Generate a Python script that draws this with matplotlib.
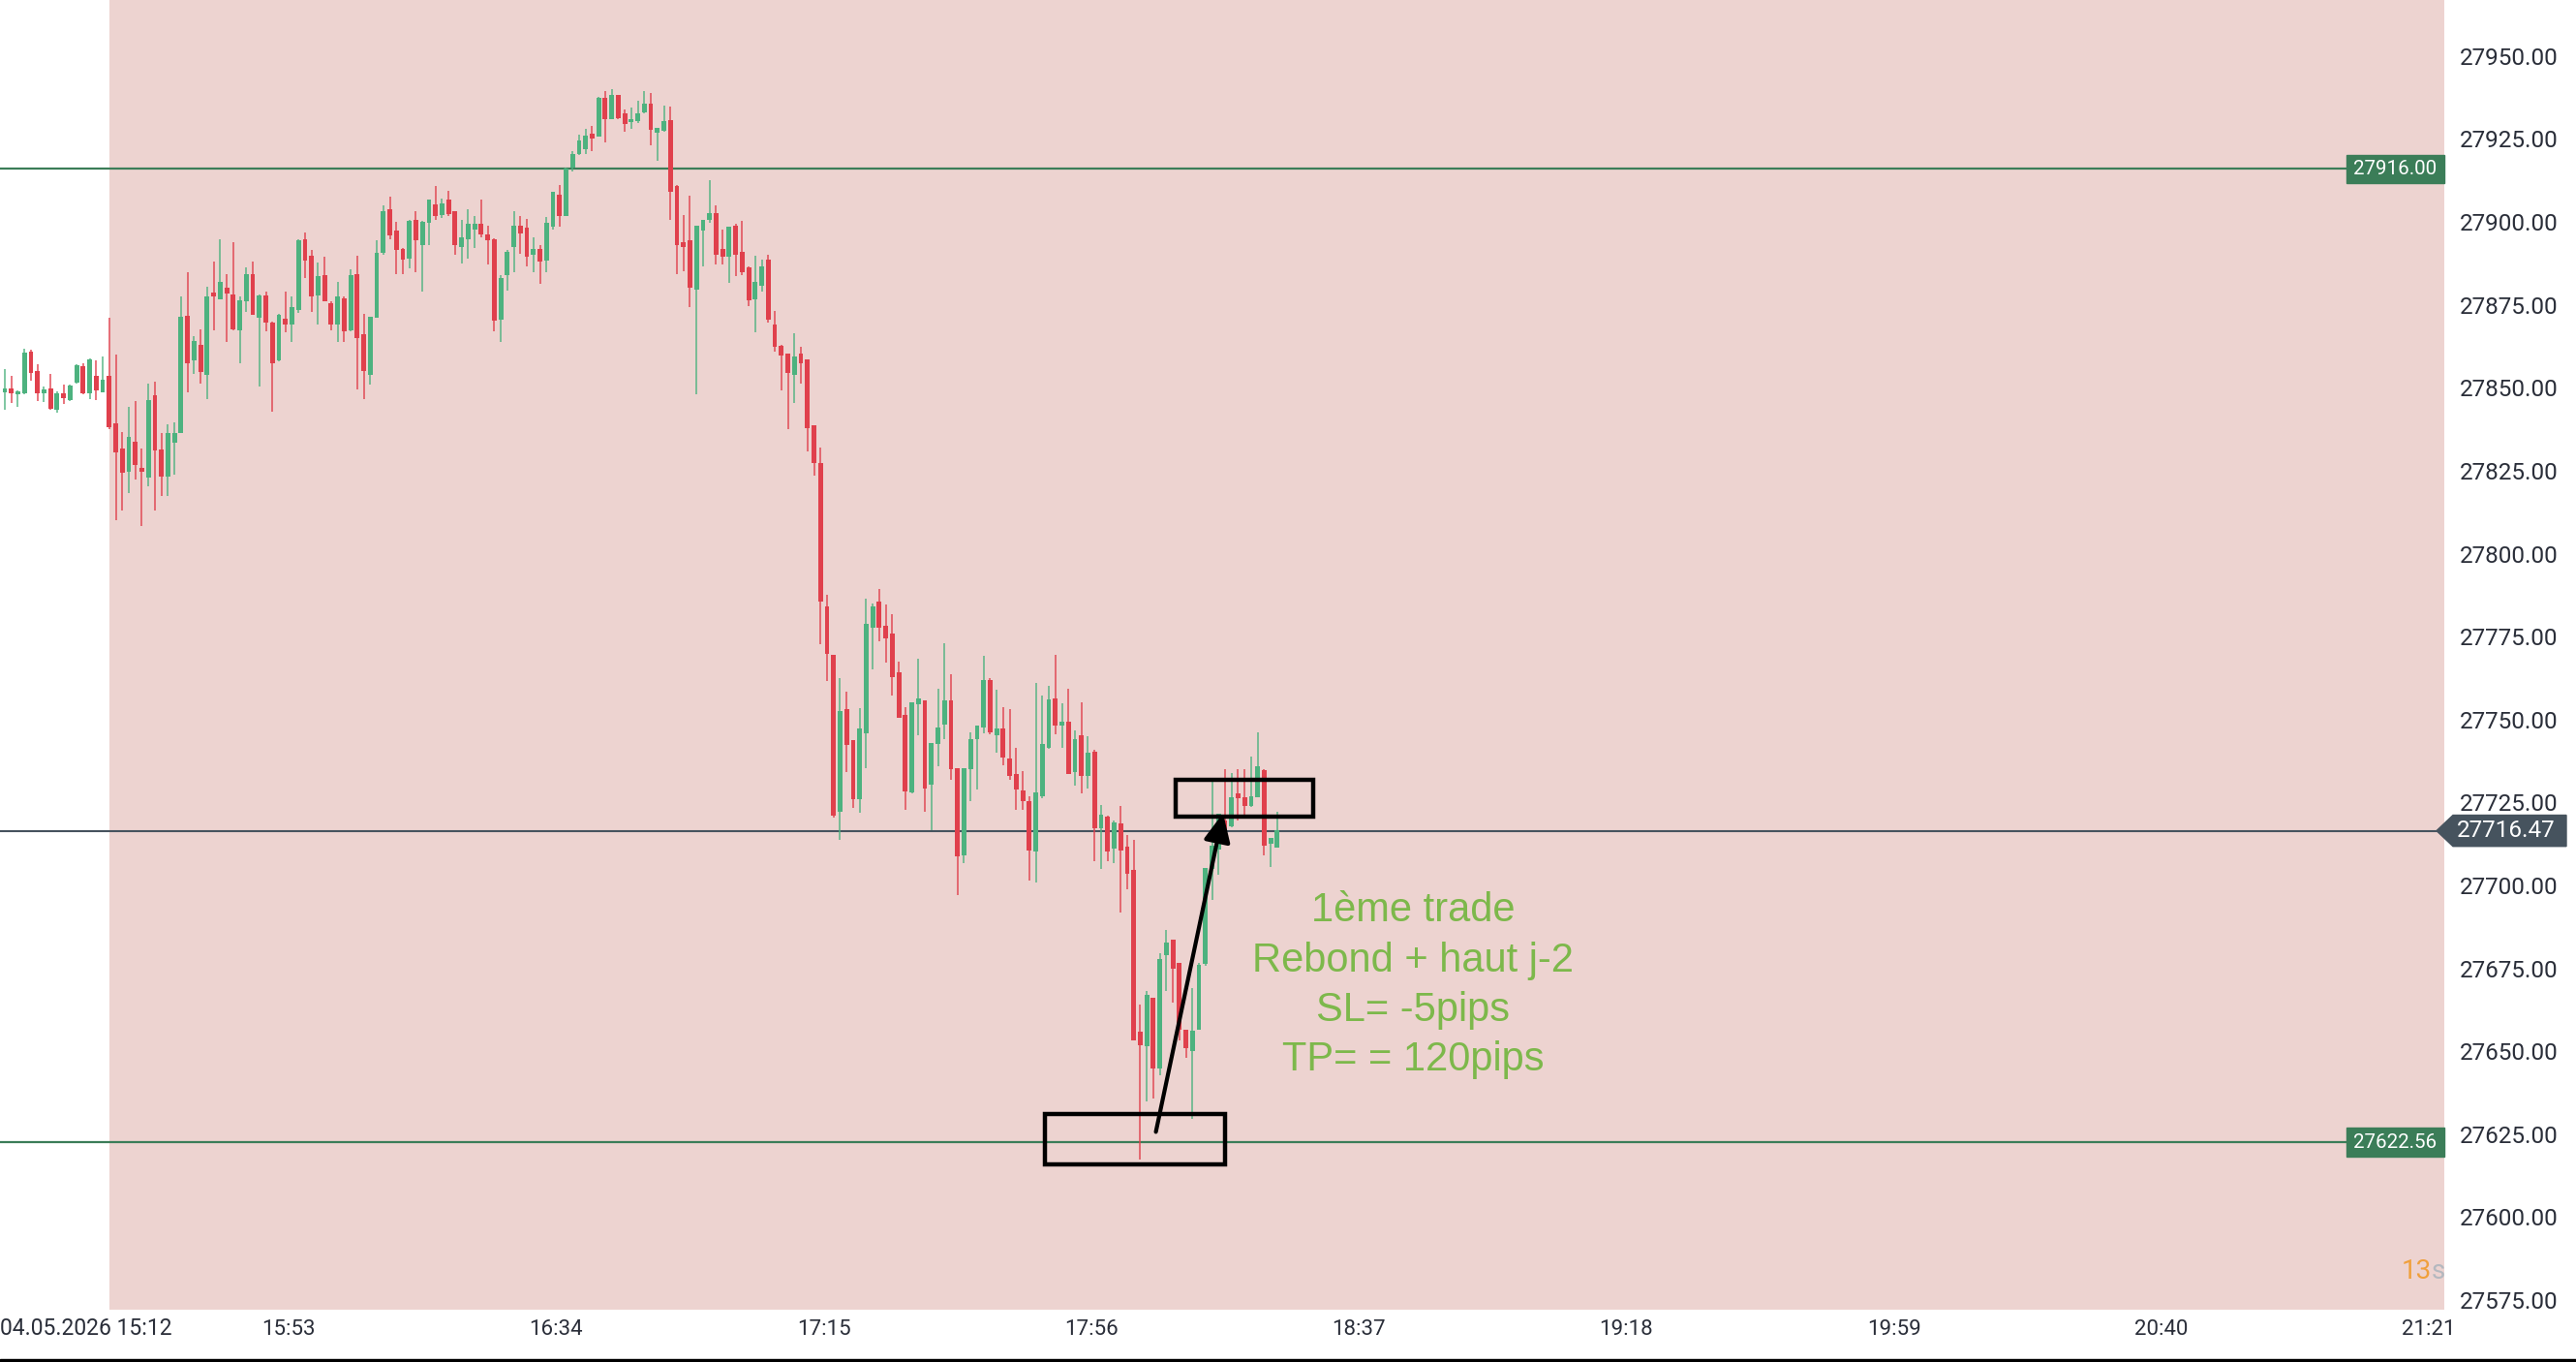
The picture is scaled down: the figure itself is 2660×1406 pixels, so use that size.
import matplotlib.pyplot as plt
import numpy as np
from matplotlib.patches import Rectangle, Polygon
from matplotlib.transforms import blended_transform_factory

plt.rcParams['font.family'] = ['Roboto', 'DejaVu Sans']

# 1 minute candles (O, H, L, C)
opens = [27848.6, 27849.9, 27848.0, 27848.2, 27861.0, 27855.2, 27848.2, 27849.9, 27843.5, 27848.2,
         27846.2, 27851.6, 27856.4, 27848.2, 27853.5, 27848.7, 27853.5, 27839.4, 27831.8, 27824.8,
         27833.6, 27826.0, 27822.9, 27847.7, 27831.4, 27823.3, 27833.4, 27836.3, 27871.7, 27858.4,
         27863.0, 27854.0, 27878.8, 27876.6, 27880.3, 27878.1, 27867.4, 27876.0, 27884.4, 27871.1,
         27877.9, 27869.8, 27858.4, 27870.8, 27869.1, 27873.5, 27894.7, 27889.8, 27877.9, 27884.0,
         27875.6, 27869.1, 27876.9, 27867.2, 27884.4, 27866.2, 27854.0, 27871.1, 27890.8, 27903.8,
         27897.3, 27891.9, 27888.9, 27900.7, 27893.1, 27899.7, 27905.4, 27902.2, 27906.6, 27903.2,
         27892.5, 27894.9, 27897.8, 27899.3, 27896.3, 27894.9, 27870.4, 27884.0, 27892.5, 27898.8,
         27898.3, 27890.2, 27891.9, 27888.3, 27898.6, 27908.3, 27901.9, 27916.3, 27920.4, 27922.0,
         27926.5, 27925.8, 27937.5, 27931.1, 27938.2, 27932.7, 27930.0, 27930.4, 27932.9, 27935.6,
         27926.8, 27927.5, 27930.7, 27910.7, 27893.9, 27894.4, 27879.5, 27897.3, 27900.7, 27902.7,
         27891.9, 27889.5, 27899.0, 27891.0, 27886.3, 27876.6, 27880.8, 27888.6, 27869.1, 27862.6,
         27860.4, 27854.0, 27860.4, 27858.7, 27838.8, 27827.2, 27784.0, 27769.5, 27722.3, 27753.1,
         27743.8, 27725.9, 27745.8, 27777.6, 27785.5, 27778.2, 27775.8, 27764.2, 27751.4, 27727.9,
         27754.7, 27755.9, 27730.4, 27742.7, 27748.6, 27755.9, 27735.2, 27709.1, 27734.9, 27744.1,
         27747.5, 27762.0, 27745.2, 27747.2, 27738.2, 27733.7, 27728.5, 27725.5, 27710.3, 27727.0,
         27741.6, 27756.4, 27748.3, 27749.4, 27734.1, 27745.2, 27732.9, 27740.4, 27717.3, 27720.6,
         27711.2, 27718.7, 27711.7, 27704.6, 27655.9, 27651.5, 27666.1, 27644.7, 27678.9, 27683.6,
         27676.6, 27656.4, 27650.1, 27656.4, 27676.3, 27705.0, 27710.9, 27719.7, 27717.7, 27727.6,
         27726.7, 27724.0, 27726.7, 27734.8, 27712.6, 27711.4]
highs = [27855.5, 27853.5, 27849.2, 27861.8, 27861.5, 27857.1, 27850.3, 27854.2, 27849.0, 27851.1,
         27851.0, 27857.1, 27857.4, 27858.9, 27858.4, 27859.4, 27871.1, 27860.0, 27836.7, 27844.3,
         27846.0, 27831.8, 27851.3, 27851.9, 27836.5, 27839.0, 27839.6, 27877.6, 27884.7, 27865.7,
         27867.6, 27880.5, 27888.1, 27894.7, 27884.4, 27893.9, 27877.4, 27886.3, 27888.1, 27878.0,
         27879.1, 27870.0, 27872.3, 27879.1, 27877.6, 27894.7, 27896.9, 27891.5, 27887.9, 27889.5,
         27876.2, 27881.8, 27877.4, 27885.6, 27889.8, 27872.3, 27871.5, 27894.4, 27905.0, 27907.5,
         27899.9, 27892.2, 27900.7, 27903.2, 27900.2, 27906.6, 27910.7, 27907.0, 27909.5, 27903.2,
         27900.7, 27903.7, 27901.9, 27906.8, 27899.0, 27895.1, 27884.0, 27891.5, 27903.2, 27901.9,
         27900.9, 27895.4, 27892.9, 27901.5, 27909.0, 27911.2, 27916.5, 27921.4, 27926.2, 27928.0,
         27928.8, 27937.8, 27939.5, 27939.9, 27938.3, 27933.8, 27934.6, 27936.6, 27939.5, 27938.9,
         27928.5, 27935.0, 27934.8, 27911.0, 27902.2, 27908.0, 27898.8, 27900.7, 27912.6, 27905.1,
         27897.8, 27898.6, 27899.3, 27900.2, 27886.6, 27889.8, 27888.6, 27890.0, 27873.3, 27862.8,
         27860.4, 27866.5, 27862.3, 27858.7, 27838.8, 27831.9, 27787.7, 27769.5, 27762.6, 27758.3,
         27743.8, 27753.4, 27786.3, 27784.9, 27789.4, 27784.7, 27781.8, 27767.6, 27753.6, 27755.3,
         27768.4, 27755.9, 27743.0, 27759.4, 27772.9, 27763.7, 27735.2, 27735.2, 27746.0, 27748.3,
         27769.1, 27762.6, 27759.0, 27753.8, 27753.1, 27741.6, 27734.4, 27726.8, 27760.9, 27757.2,
         27760.1, 27769.5, 27755.0, 27759.2, 27746.7, 27755.3, 27744.9, 27740.8, 27724.3, 27721.0,
         27719.5, 27724.0, 27715.3, 27713.8, 27664.2, 27668.1, 27666.1, 27679.7, 27686.6, 27683.6,
         27676.6, 27656.4, 27669.0, 27676.6, 27705.2, 27731.2, 27721.6, 27735.0, 27733.8, 27735.0,
         27735.0, 27738.9, 27746.2, 27735.0, 27714.3, 27722.1]
lows = [27843.3, 27845.5, 27844.3, 27848.0, 27852.0, 27846.0, 27845.7, 27843.3, 27842.5, 27845.0,
        27846.0, 27851.3, 27848.0, 27846.7, 27846.4, 27848.5, 27837.5, 27810.2, 27813.1, 27818.2,
        27822.4, 27808.2, 27820.4, 27812.9, 27817.5, 27817.5, 27823.8, 27836.3, 27848.7, 27854.2,
        27851.3, 27846.7, 27867.2, 27876.6, 27863.7, 27867.4, 27857.4, 27873.0, 27872.0, 27850.3,
        27866.9, 27842.8, 27858.1, 27866.7, 27863.7, 27872.5, 27883.2, 27873.0, 27869.1, 27876.0,
        27867.2, 27863.7, 27863.7, 27867.0, 27849.6, 27846.7, 27850.9, 27871.0, 27890.0, 27894.9,
        27884.4, 27884.2, 27885.9, 27884.7, 27879.1, 27893.0, 27900.7, 27901.2, 27901.7, 27890.0,
        27887.6, 27889.0, 27892.2, 27895.4, 27887.3, 27867.1, 27863.7, 27879.3, 27884.7, 27890.5,
        27886.6, 27884.7, 27881.3, 27884.7, 27897.8, 27898.6, 27901.7, 27915.3, 27920.2, 27920.4,
        27921.4, 27925.6, 27923.9, 27931.0, 27931.1, 27927.2, 27928.0, 27929.9, 27932.8, 27923.1,
        27918.5, 27927.2, 27900.7, 27884.2, 27885.1, 27874.2, 27848.0, 27886.6, 27899.7, 27887.1,
        27887.1, 27881.7, 27883.7, 27884.0, 27874.6, 27866.6, 27879.1, 27869.8, 27861.0, 27849.2,
        27837.5, 27845.3, 27851.4, 27830.8, 27823.5, 27772.6, 27761.7, 27720.3, 27713.6, 27734.1,
        27723.4, 27721.8, 27735.2, 27765.0, 27773.7, 27767.3, 27757.2, 27750.5, 27722.9, 27727.7,
        27745.2, 27722.3, 27716.7, 27736.0, 27744.1, 27731.8, 27697.2, 27706.7, 27725.5, 27728.8,
        27745.8, 27745.6, 27740.0, 27736.3, 27731.8, 27722.9, 27722.9, 27701.6, 27701.0, 27726.2,
        27741.3, 27745.6, 27741.6, 27733.5, 27730.2, 27727.7, 27729.3, 27707.2, 27705.0, 27707.2,
        27706.7, 27691.9, 27698.7, 27653.4, 27617.4, 27634.9, 27635.9, 27642.7, 27668.1, 27664.7,
        27653.4, 27648.1, 27629.6, 27656.4, 27675.8, 27695.5, 27703.1, 27712.4, 27717.5, 27719.5,
        27721.1, 27723.6, 27726.7, 27709.0, 27705.5, 27711.4]
closes = [27849.9, 27848.2, 27849.0, 27860.6, 27854.5, 27848.2, 27849.6, 27843.8, 27848.2, 27847.0,
          27850.8, 27856.9, 27848.2, 27858.6, 27849.1, 27852.3, 27838.0, 27830.6, 27824.3, 27835.3,
          27826.6, 27824.6, 27846.4, 27831.1, 27823.3, 27836.5, 27836.5, 27871.3, 27857.4, 27864.0,
          27854.8, 27877.4, 27877.4, 27881.8, 27878.5, 27867.6, 27876.4, 27884.4, 27872.0, 27877.9,
          27869.8, 27857.4, 27872.0, 27869.1, 27874.3, 27894.4, 27888.3, 27877.4, 27883.7, 27876.2,
          27869.1, 27877.4, 27866.9, 27884.0, 27865.0, 27855.2, 27871.3, 27890.8, 27903.3, 27895.9,
          27891.5, 27888.6, 27900.2, 27894.4, 27899.9, 27906.6, 27901.9, 27905.6, 27902.5, 27893.1,
          27895.4, 27899.3, 27899.3, 27896.3, 27894.4, 27870.1, 27883.2, 27891.0, 27899.0, 27896.6,
          27889.5, 27891.8, 27888.1, 27899.6, 27909.0, 27901.9, 27916.1, 27920.4, 27924.6, 27926.0,
          27925.1, 27937.5, 27930.9, 27938.2, 27931.4, 27929.5, 27931.1, 27932.7, 27935.6, 27927.8,
          27928.5, 27930.4, 27909.0, 27892.9, 27892.5, 27880.3, 27898.8, 27900.7, 27902.7, 27890.2,
          27889.5, 27898.6, 27890.2, 27884.7, 27876.4, 27882.0, 27886.6, 27870.4, 27862.3, 27859.8,
          27854.5, 27859.3, 27857.4, 27837.7, 27827.2, 27785.5, 27769.8, 27721.0, 27752.5, 27742.2,
          27725.9, 27747.2, 27778.8, 27784.0, 27777.6, 27774.6, 27762.8, 27750.5, 27728.2, 27755.3,
          27756.4, 27729.3, 27743.0, 27747.5, 27755.9, 27734.9, 27708.7, 27735.2, 27744.1, 27748.3,
          27762.0, 27746.0, 27747.2, 27738.5, 27732.9, 27729.0, 27725.5, 27710.6, 27727.9, 27742.5,
          27756.1, 27748.3, 27749.4, 27733.7, 27744.1, 27732.9, 27740.0, 27717.3, 27721.2, 27710.3,
          27719.0, 27710.4, 27703.6, 27653.4, 27651.7, 27667.1, 27644.7, 27677.8, 27682.9, 27674.9,
          27656.4, 27651.0, 27656.2, 27676.0, 27705.2, 27711.9, 27721.6, 27713.8, 27726.5, 27726.3,
          27724.0, 27727.0, 27736.0, 27711.9, 27714.3, 27716.5]

resist_lvl = 27916.00
support_lvl = 27622.56
last_price = 27716.47
session_start = 16          # candle where the shaded session begins

yticks = np.arange(27575, 27951, 25)
time_labels = ['15:53', '16:34', '17:15', '17:56', '18:37', '19:18', '19:59', '20:40', '21:21']
first_label = '04.05.2026 15:12'

# trade annotation: entry/exit boxes (candle index, price) and arrow
entry_box = (159.4, 187.0, 27615.9, 27631.1)
exit_box = (179.4, 200.5, 27720.8, 27731.7)
arrow_from = (176.4, 27625.7)
arrow_to = (186.7, 27721.8)
note = "1ème trade\nRebond + haut j-2\nSL= -5pips\nTP= = 120pips"

UP = '#4db27f'
DOWN = '#e0404c'
PINK = '#edd3d0'
GREEN_LVL = '#3b7d58'
SLATE = '#46535e'
TXT = '#2a2e39'

W, H = 2660, 1406
AW = 2524   # plot area width in px
fig = plt.figure(figsize=(W / 100, H / 100), dpi=100)
ax = fig.add_axes([0, 54 / H, AW / W, 1352 / H])
ax.set_facecolor('white')

x = np.arange(len(opens))
o = np.array(opens)
c = np.array(closes)
cols = np.where(c >= o, UP, DOWN)

ax.axvspan(session_start, 400, color=PINK, zorder=0, lw=0)
ax.vlines(x, lows, highs, colors=cols, lw=1.2, alpha=0.85, zorder=3)
body = np.maximum(np.abs(c - o), 0.7)
ax.bar(x, body, bottom=np.minimum(o, c), width=0.72, color=cols, zorder=3.1, lw=0)

ax.axhline(resist_lvl, color=GREEN_LVL, lw=1.6, zorder=2)
ax.axhline(support_lvl, color=GREEN_LVL, lw=1.6, zorder=2)
ax.axhline(last_price, color=SLATE, lw=1.5, zorder=2)

ax.set_xlim(-0.74, 373.85)
ax.set_ylim(27572.1, 27966.9)

# price labels at the right of the plot
tr = blended_transform_factory(ax.transAxes, ax.transData)
for lvl in (resist_lvl, support_lvl):
    ax.add_patch(Rectangle((2423 / AW, lvl - 4.3), 101 / AW, 8.6, transform=tr,
                           color=GREEN_LVL, zorder=6, clip_on=False))
    ax.text(2473.5 / AW, lvl, f'{lvl:.2f}', transform=tr, ha='center', va='center',
            color='white', fontsize=14.8, zorder=7)

ax.add_patch(Polygon([(2516 / AW, last_price), (2533 / AW, last_price + 4.7),
                      (2650 / AW, last_price + 4.7), (2650 / AW, last_price - 4.7),
                      (2533 / AW, last_price - 4.7)], closed=True, transform=tr,
                     color=SLATE, zorder=10, clip_on=False))
ax.text(2588 / AW, last_price, f'{last_price:.2f}', transform=tr, ha='center', va='center',
        color='white', fontsize=17.5, zorder=11, clip_on=False)

# axes
ax.yaxis.tick_right()
ax.set_yticks(yticks)
ax.set_yticklabels([f'{v:.2f}' for v in yticks])
ax.tick_params(axis='y', length=0, pad=11.5, labelsize=17.5, labelcolor=TXT)
ax.set_xticks(43.5 + 41 * np.arange(len(time_labels)))
ax.set_xticklabels(time_labels)
ax.tick_params(axis='x', length=0, pad=7, labelsize=16, labelcolor=TXT)
for s in ax.spines.values():
    s.set_visible(False)
fig.text(178 / W, 34 / H, first_label, ha='right', va='center', fontsize=16.5, color=TXT)

# trade drawing
for x0, x1, y0, y1 in (entry_box, exit_box):
    ax.add_patch(Rectangle((x0, y0), x1 - x0, y1 - y0, fill=False, ec='black', lw=3.2, zorder=8))
ax.annotate('', xy=arrow_to, xytext=arrow_from,
            arrowprops=dict(arrowstyle='-|>,head_length=0.6,head_width=0.28', lw=3,
                            color='black', mutation_scale=30, shrinkA=0, shrinkB=0), zorder=9)
ax.text(215.8, 27669.9, note, ha='center', va='center', multialignment='center',
        color='#7db84b', fontsize=30, family=['Liberation Sans', 'DejaVu Sans'],
        linespacing=1.36, zorder=9)

ax.text(2511 / AW, 39 / 1352, '13', transform=ax.transAxes, ha='right', va='center',
        color='#f0a03c', fontsize=20, zorder=9)
ax.text(2511 / AW, 39 / 1352, 's', transform=ax.transAxes, ha='left', va='center',
        color='#b4b8bf', fontsize=20, zorder=9)

fig.add_artist(Rectangle((0, 0), 1, 3 / H, transform=fig.transFigure, color='black'))

fig.savefig('out.png', dpi=100, facecolor='white')
